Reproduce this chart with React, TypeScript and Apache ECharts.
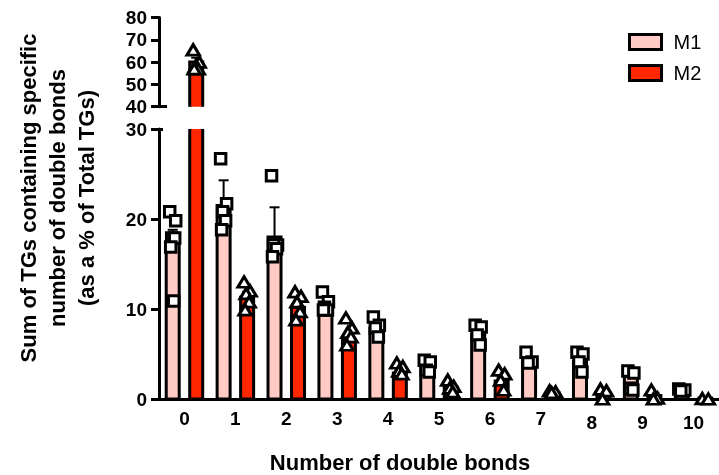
import React, { useEffect, useRef } from 'react';
import * as echarts from 'echarts';

// ---------------- data ----------------
const categories = ['0', '1', '2', '3', '4', '5', '6', '7', '8', '9', '10'];

const m1Mean = [17.4, 21.5, 18.0, 10.3, 7.9, 3.5, 7.2, 4.3, 4.2, 2.5, 1.0];
const m1Err = [1.4, 2.8, 3.3, 0.4, 0.5, 0.3, 0.5, 0.3, 0.5, 0.4, 0.05];
const m2Mean = [60.0, 11.3, 10.2, 6.6, 2.9, 1.3, 2.0, 0.7, 0.6, 0.4, 0.1];
const m2Err = [2.0, 0.6, 0.6, 0.6, 0.3, 0.2, 0.4, 0.1, 0.3, 0.3, 0.0];

const m1Points: number[][] = [
  [20.8, 19.8, 17.9, 17.9, 16.9, 10.9],
  [26.7, 21.7, 20.8, 19.8, 18.8],
  [24.8, 17.1, 17.1, 16.7, 15.8],
  [11.9, 10.8, 10.2, 9.9, 9.9],
  [9.1, 8.2, 7.9, 6.9],
  [4.3, 4.1, 3.2, 3.0],
  [8.2, 8.0, 7.1, 6.0],
  [5.2, 4.1, 4.0],
  [5.2, 5.0, 4.1, 3.0],
  [3.1, 2.9, 1.2, 1.0],
  [1.1, 1.0, 0.9],
];
const m2Points: number[][] = [
  [65.5, 60.0, 58.0, 57.0, 57.0],
  [13.0, 12.0, 11.7, 10.8, 9.9],
  [11.9, 11.4, 10.8, 9.7, 8.8],
  [9.0, 7.9, 7.4, 6.9, 6.0],
  [4.0, 3.6, 3.1, 2.8],
  [2.1, 1.4, 1.2, 0.8],
  [3.2, 2.8, 2.1, 1.0],
  [0.9, 0.8, 0.7],
  [1.1, 0.9, 0.0],
  [1.0, 0.1, 0.0],
  [0.05, 0.0],
];

const upperRange = { min: 40, max: 80, interval: 10 };
const lowerRange = { min: 0, max: 30, interval: 10 };

const yTitle = ['Sum of TGs containing specific', 'number of double bonds', '(as a % of Total TGs)'];
const xTitle = 'Number of double bonds';

// ---------------- style ----------------
const FONT = "'Liberation Sans', Arial, Helvetica, sans-serif";
const M1_COLOR = '#ffcbc4';
const M2_COLOR = '#ff2600';
const OFFSET = 11.75;
const BAR_W = 13;
const JITTER = [-3, 3, -1, 2, -2, 1];

function barRenderer(offset: number, color: string) {
  return (params: any, api: any) => {
    const cat = api.value(0);
    const v = api.value(1);
    const top = api.coord([cat, v]);
    const base = api.coord([cat, 0]);
    return {
      type: 'rect',
      shape: { x: top[0] + offset - BAR_W / 2, y: top[1], width: BAR_W, height: base[1] - top[1] },
      style: { fill: color, stroke: '#000', lineWidth: 3 },
    };
  };
}

function errRenderer(offset: number) {
  return (params: any, api: any) => {
    const cat = api.value(0);
    const mean = api.value(1);
    const err = api.value(2);
    const p0 = api.coord([cat, mean]);
    const p1 = api.coord([cat, mean + err]);
    const x = p0[0] + offset;
    return {
      type: 'group',
      children: [
        { type: 'line', shape: { x1: x, y1: p0[1], x2: x, y2: p1[1] }, style: { stroke: '#000', lineWidth: 2 } },
        { type: 'line', shape: { x1: x - 5, y1: p1[1], x2: x + 5, y2: p1[1] }, style: { stroke: '#000', lineWidth: 2 } },
      ],
    };
  };
}

function scatterData(points: number[][], offset: number) {
  const out: any[] = [];
  points.forEach((arr, i) =>
    arr.forEach((v, j) => out.push({ value: [i, v], symbolOffset: [offset + JITTER[j % JITTER.length], 0] }))
  );
  return out;
}

const axisLineStyle = { color: '#000', width: 3 };
const labelStyle = { fontSize: 19, fontWeight: 'bold', color: '#000', fontFamily: FONT };

export default function App() {
  const ref = useRef<HTMLDivElement>(null);
  useEffect(() => {
    if (!ref.current) return;
    const chart = echarts.init(ref.current, undefined, { renderer: 'svg' });
    const barData1 = categories.map((c, i) => [i, m1Mean[i], m1Err[i]]);
    const barData2 = categories.map((c, i) => [i, m2Mean[i], m2Err[i]]);

    const option: any = {
      animation: false,
      textStyle: { fontFamily: FONT },
      legend: {
        orient: 'vertical',
        left: 623,
        top: 27,
        itemWidth: 32,
        itemHeight: 15,
        itemGap: 11,
        textStyle: { fontSize: 20, color: '#000', fontFamily: FONT, padding: [0, 0, 0, 7] },
        data: [
          { name: 'M1', icon: 'rect', itemStyle: { color: M1_COLOR, borderColor: '#000', borderWidth: 3 } },
          { name: 'M2', icon: 'rect', itemStyle: { color: M2_COLOR, borderColor: '#000', borderWidth: 3 } },
        ],
      },
      grid: [
        { left: 159, top: 17.5, width: 572, height: 89.2 },
        { left: 159, top: 129, width: 572, height: 270 },
      ],
      xAxis: [
        { type: 'category', gridIndex: 0, data: categories, show: false },
        {
          type: 'category',
          gridIndex: 1,
          data: categories,
          axisLine: { onZero: false, lineStyle: axisLineStyle },
          axisTick: { show: false },
          axisLabel: {
            margin: 10,
            interval: 0,
            formatter: (v: string, idx: number) => (idx >= 8 ? `{low|${v}}` : `{n|${v}}`),
            rich: {
              n: { ...labelStyle },
              low: { ...labelStyle, padding: [4, 0, 0, 0] },
            },
          },
        },
      ],
      yAxis: [
        {
          type: 'value', gridIndex: 0, position: 'left', ...upperRange,
          axisLine: { show: true, lineStyle: axisLineStyle },
          axisTick: { show: true, length: 8, lineStyle: axisLineStyle },
          axisLabel: { ...labelStyle, margin: 12 },
          splitLine: { show: false },
        },
        {
          type: 'value', gridIndex: 0, position: 'left', ...upperRange,
          axisLine: { show: false },
          axisTick: { show: true, inside: true, length: 8, customValues: [40], lineStyle: axisLineStyle },
          axisLabel: { show: false },
          splitLine: { show: false },
        },
        {
          type: 'value', gridIndex: 1, position: 'left', ...lowerRange,
          axisLine: { show: true, lineStyle: axisLineStyle },
          axisTick: { show: true, length: 8, lineStyle: axisLineStyle },
          axisLabel: { ...labelStyle, margin: 12 },
          splitLine: { show: false },
        },
        {
          type: 'value', gridIndex: 1, position: 'left', ...lowerRange,
          axisLine: { show: false },
          axisTick: { show: true, inside: true, length: 4, customValues: [30], lineStyle: axisLineStyle },
          axisLabel: { show: false },
          splitLine: { show: false },
        },
      ],
      graphic: [
        {
          type: 'text',
          x: 57,
          y: 198,
          rotation: Math.PI / 2,
          style: {
            text: yTitle.join('\n'),
            align: 'center',
            verticalAlign: 'middle',
            font: `bold 22px ${FONT}`,
            lineHeight: 29,
            fill: '#000',
          },
        },
        {
          type: 'text',
          x: 400,
          y: 462,
          style: {
            text: xTitle,
            align: 'center',
            verticalAlign: 'middle',
            font: `bold 22px ${FONT}`,
            fill: '#000',
          },
        },
      ],
      series: [
        {
          name: 'M1', type: 'custom', xAxisIndex: 1, yAxisIndex: 2, clip: true, z: 2,
          encode: { x: 0, y: 1 }, data: barData1, renderItem: barRenderer(-OFFSET, M1_COLOR),
          itemStyle: { color: M1_COLOR },
        },
        {
          name: 'M2', type: 'custom', xAxisIndex: 1, yAxisIndex: 2, clip: true, z: 2,
          encode: { x: 0, y: 1 }, data: barData2, renderItem: barRenderer(OFFSET, M2_COLOR),
          itemStyle: { color: M2_COLOR },
        },
        {
          name: 'M2', type: 'custom', xAxisIndex: 0, yAxisIndex: 0, clip: true, z: 2,
          encode: { x: 0, y: 1 }, data: barData2, renderItem: barRenderer(OFFSET, M2_COLOR),
          itemStyle: { color: M2_COLOR },
        },
        {
          name: 'M1', type: 'custom', xAxisIndex: 1, yAxisIndex: 2, clip: true, z: 3,
          encode: { x: 0, y: 1 }, data: barData1, renderItem: errRenderer(-OFFSET),
        },
        {
          name: 'M2', type: 'custom', xAxisIndex: 1, yAxisIndex: 2, clip: true, z: 3,
          encode: { x: 0, y: 1 }, data: barData2, renderItem: errRenderer(OFFSET),
        },
        {
          name: 'M2', type: 'custom', xAxisIndex: 0, yAxisIndex: 0, clip: true, z: 3,
          encode: { x: 0, y: 1 }, data: barData2, renderItem: errRenderer(OFFSET),
        },
        {
          name: 'M1', type: 'scatter', xAxisIndex: 1, yAxisIndex: 2, clip: false, z: 4,
          symbol: 'rect', symbolSize: 10.5,
          itemStyle: { color: '#fff', borderColor: '#000', borderWidth: 3, opacity: 1 },
          data: scatterData(m1Points, -OFFSET),
        },
        {
          name: 'M2', type: 'scatter', xAxisIndex: 1, yAxisIndex: 2, clip: false, z: 4,
          symbol: 'triangle', symbolSize: [12.5, 10.5],
          itemStyle: { color: '#fff', borderColor: '#000', borderWidth: 3, opacity: 1 },
          data: scatterData(m2Points, OFFSET),
        },
        {
          name: 'M2', type: 'scatter', xAxisIndex: 0, yAxisIndex: 0, clip: true, z: 4,
          symbol: 'triangle', symbolSize: [12.5, 10.5],
          itemStyle: { color: '#fff', borderColor: '#000', borderWidth: 3, opacity: 1 },
          data: scatterData(m2Points, OFFSET),
        },
      ],
    };
    chart.setOption(option);
    return () => chart.dispose();
  }, []);

  return <div ref={ref} style={{ position: 'fixed', left: 0, top: 0, width: 719, height: 475 }} />;
}
